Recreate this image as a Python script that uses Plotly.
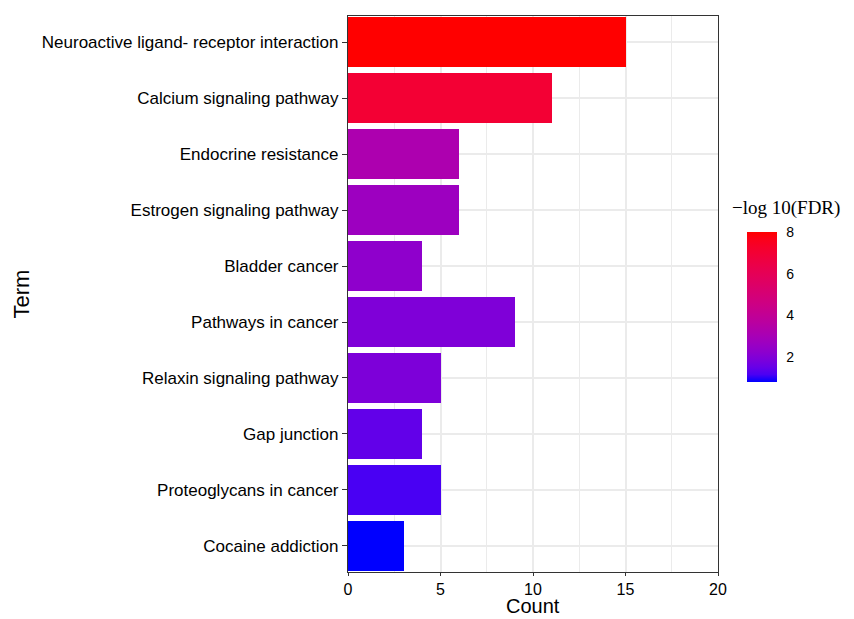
import numpy as np
import plotly.graph_objects as go

# KEGG enrichment results
terms = [
    "Neuroactive ligand- receptor interaction",
    "Calcium signaling pathway",
    "Endocrine resistance",
    "Estrogen signaling pathway",
    "Bladder cancer",
    "Pathways in cancer",
    "Relaxin signaling pathway",
    "Gap junction",
    "Proteoglycans in cancer",
    "Cocaine addiction",
]
counts = [15, 11, 6, 6, 4, 9, 5, 4, 5, 3]
neg_log10_fdr = [8.0, 7.0, 3.2, 2.7, 2.3, 1.95, 1.9, 1.45, 1.15, 0.8]

cbar_ticks = [2, 4, 6, 8]
x_ticks = [0, 5, 10, 15, 20]


# blue -> red gradient interpolated in CIE Lab space
def srgb_to_lab(rgb):
    c = np.array(rgb) / 255.0
    c = np.where(c > 0.04045, ((c + 0.055) / 1.055) ** 2.4, c / 12.92)
    m = np.array([[0.4124, 0.3576, 0.1805],
                  [0.2126, 0.7152, 0.0722],
                  [0.0193, 0.1192, 0.9505]])
    xyz = m @ c / np.array([0.95047, 1.0, 1.08883])
    f = np.where(xyz > 0.008856, np.cbrt(xyz), 7.787 * xyz + 16 / 116)
    return np.array([116 * f[1] - 16, 500 * (f[0] - f[1]), 200 * (f[1] - f[2])])


def lab_to_srgb(lab):
    L, a, b = lab
    fy = (L + 16) / 116
    fx = fy + a / 500
    fz = fy - b / 200
    f = np.array([fx, fy, fz])
    xyz = np.where(f ** 3 > 0.008856, f ** 3, (f - 16 / 116) / 7.787)
    xyz = xyz * np.array([0.95047, 1.0, 1.08883])
    m = np.array([[3.2406, -1.5372, -0.4986],
                  [-0.9689, 1.8758, 0.0415],
                  [0.0557, -0.2040, 1.0570]])
    lin = np.clip(m @ xyz, 0, 1)
    c = np.where(lin > 0.0031308, 1.055 * lin ** (1 / 2.4) - 0.055, 12.92 * lin)
    c = np.clip(np.round(c * 255), 0, 255).astype(int)
    return f"rgb({c[0]},{c[1]},{c[2]})"


lab_lo = srgb_to_lab([0, 0, 255])
lab_hi = srgb_to_lab([255, 0, 0])
colorscale = [[t, lab_to_srgb(lab_lo + (lab_hi - lab_lo) * t)]
              for t in np.linspace(0, 1, 21)]

fig = go.Figure()
fig.add_trace(go.Bar(
    x=counts,
    y=terms,
    orientation="h",
    width=0.9,
    marker=dict(
        color=neg_log10_fdr,
        colorscale=colorscale,
        cmin=min(neg_log10_fdr),
        cmax=max(neg_log10_fdr),
        line=dict(width=0),
        colorbar=dict(
            tickvals=cbar_ticks,
            ticks="outside",
            ticklen=7,
            tickcolor="rgba(255,255,255,0)",
            tickfont=dict(family="Liberation Sans", size=14, color="black"),
            thickness=30,
            thicknessmode="pixels",
            len=150,
            lenmode="pixels",
            x=1.078,
            xanchor="left",
            xpad=0,
            y=0.4766,
            yanchor="middle",
            ypad=0,
            outlinewidth=0,
        ),
    ),
    hovertemplate="%{y}: %{x}<extra></extra>",
))

# legend title for the colour scale
fig.add_annotation(
    text="\u2212log 10(FDR)",
    xref="paper", yref="paper",
    x=1.1838, y=0.6547,
    xanchor="center", yanchor="middle",
    showarrow=False,
    font=dict(family="Liberation Serif", size=19, color="black"),
)

# x axis title
fig.add_annotation(
    text="Count",
    xref="paper", yref="paper",
    x=0.5, y=-0.0612,
    xanchor="center", yanchor="middle",
    showarrow=False,
    font=dict(family="Liberation Sans", size=20, color="black"),
)

fig.update_layout(
    width=854,
    height=619,
    margin=dict(l=348, r=136, t=16, b=47, autoexpand=False),
    paper_bgcolor="white",
    plot_bgcolor="white",
    font=dict(family="Liberation Sans", color="black"),
    showlegend=False,
    bargap=0,
)

fig.update_xaxes(
    range=[0, 20],
    tickvals=x_ticks,
    ticks="outside",
    ticklen=3,
    tickcolor="#333333",
    tickfont=dict(size=16, color="black"),
    showgrid=True,
    gridcolor="#EBEBEB",
    gridwidth=1.6,
    minor=dict(dtick=2.5, showgrid=True, gridcolor="#EBEBEB", gridwidth=0.8),
    zeroline=False,
    showline=True,
    linecolor="#333333",
    linewidth=1.2,
    mirror=True,
    automargin=False,
)

fig.update_yaxes(
    type="category",
    categoryorder="array",
    categoryarray=terms,
    range=[9.465, -0.465],
    ticks="outside",
    ticklen=5,
    tickcolor="#333333",
    tickfont=dict(size=17, color="black"),
    showgrid=True,
    gridcolor="#EBEBEB",
    gridwidth=1.6,
    zeroline=False,
    showline=True,
    linecolor="#333333",
    linewidth=1.2,
    mirror=True,
    automargin=False,
    title=dict(text="Term", font=dict(size=22, color="black"), standoff=6),
)

fig.write_html("out.html")
